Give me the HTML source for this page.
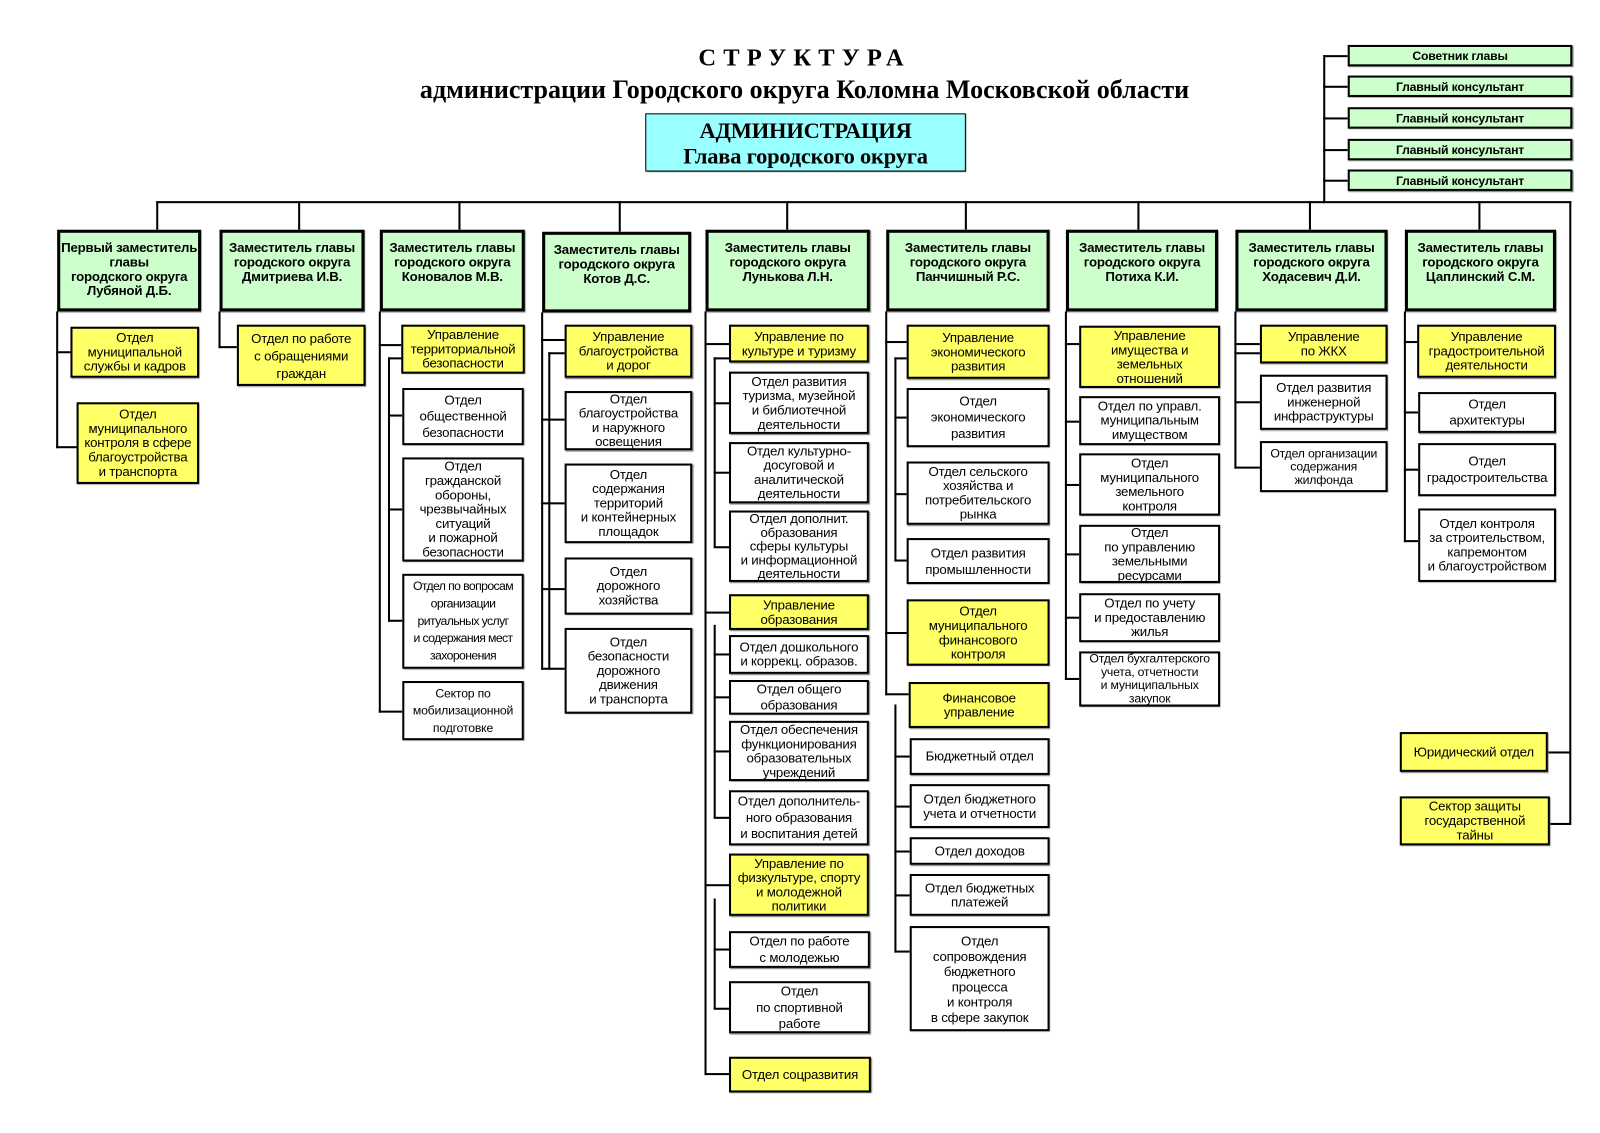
<!DOCTYPE html>
<html><head><meta charset="utf-8"><style>
html,body{margin:0;padding:0;background:#fff;width:1600px;height:1131px;overflow:hidden}
#c{position:absolute;left:0;top:0;width:1570px;height:1110px;transform:scale(1.021);transform-origin:0 0;font-family:"Liberation Sans","DejaVu Sans",sans-serif}
.b{position:absolute;border:2px solid #000;display:flex;align-items:center;justify-content:center;text-align:center;font-size:13px;line-height:14px;box-sizing:border-box;white-space:nowrap;letter-spacing:-0.2px;box-shadow:1px 1px 1px #777}
.y{background:#ffff66}.w{background:#fff}
.g{background:#ccffcc;font-weight:bold;border-width:3px;align-items:flex-start;padding-top:8px}
.s{background:#ccffcc;font-weight:bold;font-size:12px}
i{position:absolute;background:#000;display:block}
.t{position:absolute;left:0;width:1576px;text-align:center;font-family:"Liberation Serif",serif;font-weight:bold}
</style></head><body><div id="c">
<div class="t" style="top:44px;font-size:24px;letter-spacing:7px">СТРУКТУРА</div>
<div class="t" style="top:73px;font-size:25.5px">администрации Городского округа Коломна Московской области</div>
<div class="b" style="left:632px;top:111px;width:314px;height:57px;background:#99ffff;font-family:'Liberation Serif',serif;font-weight:bold;font-size:22px;line-height:25px;border-width:1px">АДМИНИСТРАЦИЯ<br>Глава городского округа</div>

<i style="left:1296px;top:54px;width:2px;height:145px"></i>
<i style="left:1296px;top:54px;width:24px;height:2px"></i>
<i style="left:1296px;top:84px;width:24px;height:2px"></i>
<i style="left:1296px;top:115px;width:24px;height:2px"></i>
<i style="left:1296px;top:146px;width:24px;height:2px"></i>
<i style="left:1296px;top:176px;width:24px;height:2px"></i>
<div class="b s" style="left:1320px;top:44px;width:220px;height:21px">Советник главы</div>
<div class="b s" style="left:1320px;top:74px;width:220px;height:21px">Главный консультант</div>
<div class="b s" style="left:1320px;top:105px;width:220px;height:21px">Главный консультант</div>
<div class="b s" style="left:1320px;top:136px;width:220px;height:21px">Главный консультант</div>
<div class="b s" style="left:1320px;top:166px;width:220px;height:21px">Главный консультант</div>

<i style="left:153px;top:197px;width:1386px;height:2px"></i>
<i style="left:1537px;top:197px;width:2px;height:611px"></i>
<i style="left:1516px;top:736px;width:22px;height:2px"></i>
<i style="left:1518px;top:806px;width:20px;height:2px"></i>
<i style="left:153px;top:197px;width:2px;height:28px"></i>
<i style="left:292px;top:197px;width:2px;height:28px"></i>
<i style="left:449px;top:197px;width:2px;height:28px"></i>
<i style="left:606px;top:197px;width:2px;height:30px"></i>
<i style="left:770px;top:197px;width:2px;height:28px"></i>
<i style="left:945px;top:197px;width:2px;height:28px"></i>
<i style="left:1114px;top:197px;width:2px;height:28px"></i>
<i style="left:1282px;top:197px;width:2px;height:28px"></i>
<i style="left:1448px;top:197px;width:2px;height:28px"></i>

<div class="b g" style="left:56px;top:225px;width:141px;height:80px">Первый заместитель<br>главы<br>городского округа<br>Лубяной Д.Б.</div>
<div class="b g" style="left:215px;top:225px;width:142px;height:80px">Заместитель главы<br>городского округа<br>Дмитриева И.В.</div>
<div class="b g" style="left:372px;top:225px;width:142px;height:80px">Заместитель главы<br>городского округа<br>Коновалов М.В.</div>
<div class="b g" style="left:531px;top:227px;width:146px;height:79px">Заместитель главы<br>городского округа<br>Котов Д.С.</div>
<div class="b g" style="left:691px;top:225px;width:161px;height:80px">Заместитель главы<br>городского округа<br>Лунькова Л.Н.</div>
<div class="b g" style="left:868px;top:225px;width:160px;height:80px">Заместитель главы<br>городского округа<br>Панчишный Р.С.</div>
<div class="b g" style="left:1044px;top:225px;width:149px;height:80px">Заместитель главы<br>городского округа<br>Потиха К.И.</div>
<div class="b g" style="left:1210px;top:225px;width:149px;height:80px">Заместитель главы<br>городского округа<br>Ходасевич Д.И.</div>
<div class="b g" style="left:1376px;top:225px;width:148px;height:80px">Заместитель главы<br>городского округа<br>Цаплинский С.М.</div>

<i style="left:55px;top:305px;width:2px;height:134px"></i>
<i style="left:55px;top:344px;width:14px;height:2px"></i>
<i style="left:55px;top:437px;width:20px;height:2px"></i>
<div class="b y" style="left:69px;top:320px;width:126px;height:50px">Отдел<br>муниципальной<br>службы и кадров</div>
<div class="b y" style="left:75px;top:394px;width:120px;height:80px">Отдел<br>муниципального<br>контроля в сфере<br>благоустройства<br>и транспорта</div>
<i style="left:214px;top:305px;width:2px;height:36px"></i>
<i style="left:214px;top:339px;width:18px;height:2px"></i>
<div class="b y" style="left:232px;top:318px;width:126px;height:60px;line-height:17px">Отдел по работе<br>с обращениями<br>граждан</div>
<i style="left:371px;top:305px;width:2px;height:393px"></i>
<i style="left:371px;top:337px;width:22px;height:2px"></i>
<i style="left:371px;top:696px;width:23px;height:2px"></i>
<i style="left:380px;top:350px;width:2px;height:259px"></i>
<i style="left:380px;top:350px;width:14px;height:2px"></i>
<i style="left:380px;top:406px;width:14px;height:2px"></i>
<i style="left:380px;top:498px;width:14px;height:2px"></i>
<i style="left:380px;top:607px;width:14px;height:2px"></i>
<div class="b y" style="left:393px;top:318px;width:121px;height:48px">Управление<br>территориальной<br>безопасности</div>
<div class="b w" style="left:394px;top:380px;width:119px;height:56px;line-height:16px">Отдел<br>общественной<br>безопасности</div>
<div class="b w" style="left:394px;top:448px;width:119px;height:102px">Отдел<br>гражданской<br>обороны,<br>чрезвычайных<br>ситуаций<br>и пожарной<br>безопасности</div>
<div class="b w" style="left:394px;top:562px;width:119px;height:93px;font-size:12px;line-height:17px;letter-spacing:-0.6px">Отдел по вопросам<br>организации<br>ритуальных услуг<br>и содержания мест<br>захоронения</div>
<div class="b w" style="left:394px;top:667px;width:119px;height:58px;font-size:12px;line-height:17px">Сектор по<br>мобилизационной<br>подготовке</div>
<i style="left:530px;top:306px;width:2px;height:350px"></i>
<i style="left:530px;top:332px;width:23px;height:2px"></i>
<i style="left:537px;top:345px;width:2px;height:311px"></i>
<i style="left:537px;top:345px;width:16px;height:2px"></i>
<i style="left:530px;top:410px;width:23px;height:2px"></i>
<i style="left:530px;top:492px;width:23px;height:2px"></i>
<i style="left:530px;top:576px;width:23px;height:2px"></i>
<i style="left:530px;top:654px;width:23px;height:2px"></i>
<div class="b y" style="left:553px;top:318px;width:125px;height:52px">Управление<br>благоустройства<br>и дорог</div>
<div class="b w" style="left:553px;top:383px;width:125px;height:58px">Отдел<br>благоустройства<br>и наружного<br>освещения</div>
<div class="b w" style="left:553px;top:454px;width:125px;height:78px">Отдел<br>содержания<br>территорий<br>и контейнерных<br>площадок</div>
<div class="b w" style="left:553px;top:546px;width:125px;height:56px">Отдел<br>дорожного<br>хозяйства</div>
<div class="b w" style="left:553px;top:615px;width:125px;height:84px">Отдел<br>безопасности<br>дорожного<br>движения<br>и транспорта</div>
<i style="left:690px;top:305px;width:2px;height:748px"></i>
<i style="left:690px;top:336px;width:24px;height:2px"></i>
<i style="left:690px;top:599px;width:24px;height:2px"></i>
<i style="left:690px;top:866px;width:24px;height:2px"></i>
<i style="left:690px;top:1051px;width:24px;height:2px"></i>
<i style="left:699px;top:350px;width:2px;height:186px"></i>
<i style="left:699px;top:350px;width:15px;height:2px"></i>
<i style="left:699px;top:394px;width:15px;height:2px"></i>
<i style="left:699px;top:462px;width:15px;height:2px"></i>
<i style="left:699px;top:535px;width:15px;height:2px"></i>
<i style="left:699px;top:612px;width:2px;height:189px"></i>
<i style="left:699px;top:640px;width:15px;height:2px"></i>
<i style="left:699px;top:682px;width:15px;height:2px"></i>
<i style="left:699px;top:735px;width:15px;height:2px"></i>
<i style="left:699px;top:800px;width:15px;height:2px"></i>
<i style="left:699px;top:880px;width:2px;height:108px"></i>
<i style="left:699px;top:929px;width:15px;height:2px"></i>
<i style="left:699px;top:987px;width:15px;height:2px"></i>
<div class="b y" style="left:714px;top:318px;width:137px;height:37px">Управление по<br>культуре и туризму</div>
<div class="b w" style="left:714px;top:364px;width:137px;height:61px">Отдел развития<br>туризма, музейной<br>и библиотечной<br>деятельности</div>
<div class="b w" style="left:714px;top:433px;width:137px;height:60px">Отдел культурно-<br>досуговой и<br>аналитической<br>деятельности</div>
<div class="b w" style="left:714px;top:500px;width:137px;height:70px;line-height:13.5px">Отдел дополнит.<br>образования<br>сферы культуры<br>и информационной<br>деятельности</div>
<div class="b y" style="left:714px;top:582px;width:137px;height:35px">Управление<br>образования</div>
<div class="b w" style="left:714px;top:622px;width:137px;height:38px">Отдел дошкольного<br>и коррекц. образов.</div>
<div class="b w" style="left:714px;top:666px;width:137px;height:34px;line-height:16px">Отдел общего<br>образования</div>
<div class="b w" style="left:714px;top:706px;width:137px;height:59px">Отдел обеспечения<br>функционирования<br>образовательных<br>учреждений</div>
<div class="b w" style="left:714px;top:774px;width:137px;height:54px;line-height:16px">Отдел дополнитель-<br>ного образования<br>и воспитания детей</div>
<div class="b y" style="left:714px;top:836px;width:137px;height:61px">Управление по<br>физкультуре, спорту<br>и молодежной<br>политики</div>
<div class="b w" style="left:714px;top:912px;width:138px;height:36px;line-height:16px">Отдел по работе<br>с молодежью</div>
<div class="b w" style="left:714px;top:961px;width:138px;height:51px;line-height:16px">Отдел<br>по спортивной<br>работе</div>
<div class="b y" style="left:714px;top:1035px;width:139px;height:35px">Отдел соцразвития</div>
<i style="left:867px;top:305px;width:2px;height:376px"></i>
<i style="left:867px;top:334px;width:21px;height:2px"></i>
<i style="left:867px;top:619px;width:21px;height:2px"></i>
<i style="left:867px;top:679px;width:23px;height:2px"></i>
<i style="left:876px;top:350px;width:2px;height:199px"></i>
<i style="left:876px;top:350px;width:12px;height:2px"></i>
<i style="left:876px;top:408px;width:12px;height:2px"></i>
<i style="left:876px;top:483px;width:12px;height:2px"></i>
<i style="left:876px;top:548px;width:12px;height:2px"></i>
<i style="left:876px;top:690px;width:2px;height:243px"></i>
<i style="left:876px;top:740px;width:15px;height:2px"></i>
<i style="left:876px;top:789px;width:15px;height:2px"></i>
<i style="left:876px;top:833px;width:15px;height:2px"></i>
<i style="left:876px;top:876px;width:15px;height:2px"></i>
<i style="left:876px;top:931px;width:15px;height:2px"></i>
<div class="b y" style="left:888px;top:318px;width:140px;height:53px">Управление<br>экономического<br>развития</div>
<div class="b w" style="left:888px;top:380px;width:140px;height:58px;line-height:16px">Отдел<br>экономического<br>развития</div>
<div class="b w" style="left:888px;top:452px;width:140px;height:62px">Отдел сельского<br>хозяйства и<br>потребительского<br>рынка</div>
<div class="b w" style="left:888px;top:527px;width:140px;height:45px;line-height:16px">Отдел развития<br>промышленности</div>
<div class="b y" style="left:888px;top:587px;width:140px;height:65px">Отдел<br>муниципального<br>финансового<br>контроля</div>
<div class="b y" style="left:890px;top:668px;width:138px;height:45px">Финансовое<br>управление</div>
<div class="b w" style="left:891px;top:723px;width:137px;height:36px">Бюджетный отдел</div>
<div class="b w" style="left:891px;top:768px;width:137px;height:43px">Отдел бюджетного<br>учета и отчетности</div>
<div class="b w" style="left:891px;top:820px;width:137px;height:27px">Отдел доходов</div>
<div class="b w" style="left:891px;top:856px;width:137px;height:41px">Отдел бюджетных<br>платежей</div>
<div class="b w" style="left:891px;top:907px;width:137px;height:103px;line-height:15px">Отдел<br>сопровождения<br>бюджетного<br>процесса<br>и контроля<br>в сфере закупок</div>
<i style="left:1043px;top:305px;width:2px;height:361px"></i>
<i style="left:1043px;top:336px;width:14px;height:2px"></i>
<i style="left:1043px;top:412px;width:14px;height:2px"></i>
<i style="left:1043px;top:474px;width:14px;height:2px"></i>
<i style="left:1043px;top:542px;width:14px;height:2px"></i>
<i style="left:1043px;top:604px;width:14px;height:2px"></i>
<i style="left:1043px;top:664px;width:14px;height:2px"></i>
<div class="b y" style="left:1057px;top:319px;width:138px;height:61px">Управление<br>имущества и<br>земельных<br>отношений</div>
<div class="b w" style="left:1057px;top:388px;width:138px;height:48px">Отдел по управл.<br>муниципальным<br>имуществом</div>
<div class="b w" style="left:1057px;top:444px;width:138px;height:61px">Отдел<br>муниципального<br>земельного<br>контроля</div>
<div class="b w" style="left:1057px;top:514px;width:138px;height:57px">Отдел<br>по управлению<br>земельными<br>ресурсами</div>
<div class="b w" style="left:1057px;top:581px;width:138px;height:48px">Отдел по учету<br>и предоставлению<br>жилья</div>
<div class="b w" style="left:1057px;top:638px;width:138px;height:54px;font-size:12px;line-height:13px">Отдел бухгалтерского<br>учета, отчетности<br>и муниципальных<br>закупок</div>
<i style="left:1209px;top:305px;width:2px;height:154px"></i>
<i style="left:1209px;top:336px;width:25px;height:2px"></i>
<i style="left:1209px;top:345px;width:25px;height:2px"></i>
<i style="left:1209px;top:393px;width:25px;height:2px"></i>
<i style="left:1209px;top:457px;width:25px;height:2px"></i>
<div class="b y" style="left:1234px;top:318px;width:125px;height:38px">Управление<br>по ЖКХ</div>
<div class="b w" style="left:1234px;top:367px;width:125px;height:54px">Отдел развития<br>инженерной<br>инфраструктуры</div>
<div class="b w" style="left:1234px;top:432px;width:125px;height:50px;font-size:12px;line-height:13px">Отдел организации<br>содержания<br>жилфонда</div>
<i style="left:1375px;top:305px;width:2px;height:226px"></i>
<i style="left:1375px;top:334px;width:13px;height:2px"></i>
<i style="left:1375px;top:403px;width:14px;height:2px"></i>
<i style="left:1375px;top:459px;width:14px;height:2px"></i>
<i style="left:1375px;top:529px;width:14px;height:2px"></i>
<div class="b y" style="left:1388px;top:318px;width:136px;height:52px">Управление<br>градостроительной<br>деятельности</div>
<div class="b w" style="left:1389px;top:384px;width:135px;height:40px;line-height:16px">Отдел<br>архитектуры</div>
<div class="b w" style="left:1389px;top:434px;width:135px;height:52px;line-height:16px">Отдел<br>градостроительства</div>
<div class="b w" style="left:1389px;top:498px;width:135px;height:72px">Отдел контроля<br>за строительством,<br>капремонтом<br>и благоустройством</div>
<div class="b y" style="left:1371px;top:717px;width:145px;height:39px">Юридический отдел</div>
<div class="b y" style="left:1371px;top:780px;width:147px;height:48px">Сектор защиты<br>государственной<br>тайны</div>
</div></body></html>
